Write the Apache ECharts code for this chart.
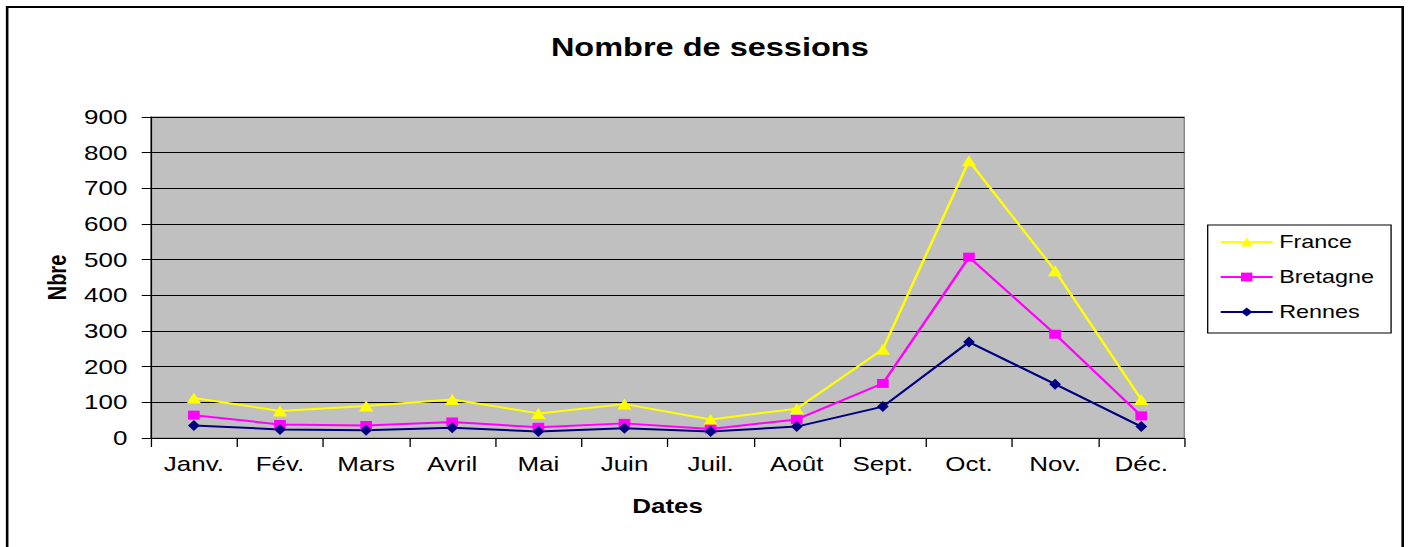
<!DOCTYPE html>
<html>
<head>
<meta charset="utf-8">
<script src="https://cdn.jsdelivr.net/npm/echarts@6/dist/echarts.min.js"></script>
<style>
  html, body { margin: 0; padding: 0; background: #fff; overflow: hidden; }
  #wrap { width: 1409px; height: 547px; overflow: hidden; }
  /* the original picture is stretched horizontally, so the chart is drawn narrower and widened */
  #chart { width: 1084px; height: 547px; transform: scaleX(1.3); transform-origin: 0 0; }
</style>
</head>
<body>
<div id="wrap"><div id="chart"></div></div>
<script>
var months = ['Janv.', 'Fév.', 'Mars', 'Avril', 'Mai', 'Juin', 'Juil.', 'Août', 'Sept.', 'Oct.', 'Nov.', 'Déc.'];
var france = [112, 76, 90, 108, 69, 95, 52, 82, 249, 777, 469, 108];
var bretagne = [64, 38, 35, 45, 30, 41, 25, 52, 153, 507, 291, 62];
var rennes = [35, 24, 22, 29, 18, 27, 18, 32, 88, 269, 151, 32];

var myChart = echarts.init(document.getElementById('chart'), null, { renderer: 'svg' });

var font = 'Liberation Sans, Arial, sans-serif';

var option = {
    backgroundColor: '#fff',
    animation: false,
    title: {
        text: 'Nombre de sessions',
        left: 541,
        top: 30,
        textAlign: 'center',
        textStyle: { fontFamily: font, fontSize: 25, fontWeight: 'bold', color: '#000' }
    },
    legend: {
        orient: 'vertical',
        left: 929,
        top: 225,
        padding: [8, 13, 12, 9],
        itemGap: 17,
        itemWidth: 40,
        itemHeight: 11,
        borderColor: '#000',
        borderWidth: 1,
        backgroundColor: '#fff',
        textStyle: { fontFamily: font, fontSize: 18, color: '#000' },
        data: ['France', 'Bretagne', 'Rennes']
    },
    grid: {
        left: 116,
        top: 117,
        width: 795,
        height: 321,
        show: true,
        backgroundColor: '#c0c0c0',
        borderColor: '#808080',
        borderWidth: 1
    },
    graphic: [{
        type: 'rect',
        shape: { x: 5.5, y: 7, width: 1073.5, height: 560 },
        style: { fill: 'none', stroke: '#000', lineWidth: 2 },
        silent: true
    }],
    xAxis: {
        type: 'category',
        data: months,
        boundaryGap: true,
        name: 'Dates',
        nameLocation: 'middle',
        nameGap: 58,
        nameTextStyle: { fontFamily: font, fontSize: 20, fontWeight: 'bold', color: '#000' },
        axisLine: { lineStyle: { color: '#000', width: 1 } },
        axisTick: { show: true, length: 9, lineStyle: { color: '#000' } },
        axisLabel: { fontFamily: font, fontSize: 20, color: '#000', margin: 16 },
        splitLine: { show: false }
    },
    yAxis: {
        type: 'value',
        min: 0,
        max: 900,
        interval: 100,
        name: 'Nbre',
        nameLocation: 'middle',
        nameGap: 58,
        nameRotate: 90,
        nameTextStyle: { fontFamily: font, fontSize: 20, fontWeight: 'bold', color: '#000' },
        axisLine: { show: true, lineStyle: { color: '#000', width: 1 } },
        axisTick: { show: true, length: 7, lineStyle: { color: '#000' } },
        axisLabel: { fontFamily: font, fontSize: 20, color: '#000', margin: 18 },
        splitLine: { show: true, lineStyle: { color: '#000', width: 1 } }
    },
    series: [
        {
            name: 'France',
            type: 'line',
            data: france,
            symbol: 'triangle',
            symbolSize: 11,
            lineStyle: { color: '#ffff00', width: 2 },
            itemStyle: { color: '#ffff00' }
        },
        {
            name: 'Bretagne',
            type: 'line',
            data: bretagne,
            symbol: 'rect',
            symbolSize: 9,
            lineStyle: { color: '#ff00ff', width: 2 },
            itemStyle: { color: '#ff00ff' }
        },
        {
            name: 'Rennes',
            type: 'line',
            data: rennes,
            symbol: 'diamond',
            symbolSize: [9, 11],
            lineStyle: { color: '#000080', width: 2 },
            itemStyle: { color: '#000080' }
        }
    ]
};

myChart.setOption(option);
</script>
</body>
</html>
